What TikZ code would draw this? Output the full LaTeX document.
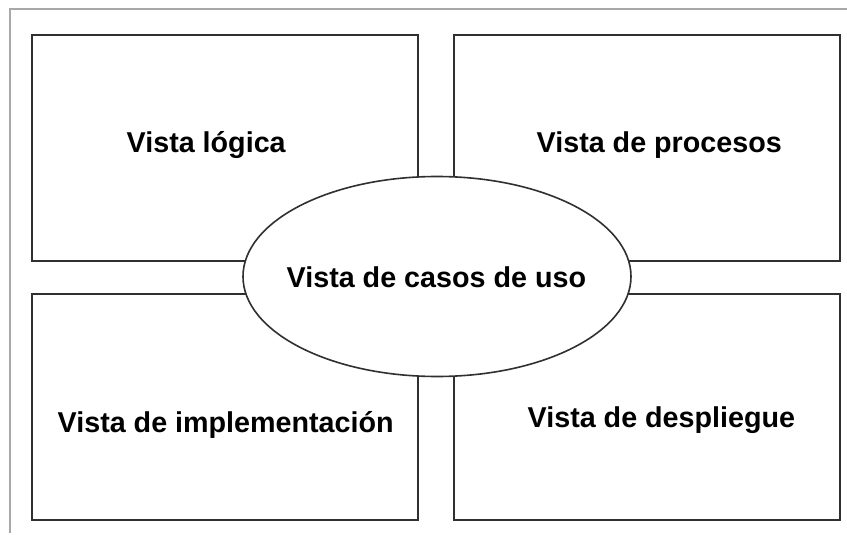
\documentclass[tikz,border=0pt]{standalone}
\usepackage{fontspec}
\setmainfont{Liberation Sans}
\usetikzlibrary{shapes.geometric}
\definecolor{frame}{HTML}{A8A8A8}
\definecolor{edge}{HTML}{303030}
\begin{document}
\begin{tikzpicture}[x=1pt,y=-1pt,
  viewbox/.style={draw=edge,line width=1.6pt,fill=white,rectangle,inner sep=0pt,
    minimum width=386pt,minimum height=226pt},
  lbl/.style={anchor=base west,inner sep=0pt,font=\fontsize{28.7pt}{30pt}\selectfont\bfseries}]
\useasboundingbox (0,0) rectangle (847,535);
\fill[white] (0,0) rectangle (847,535);
\coordinate (fright) at (847,9);
\coordinate (fbot) at (10,533);
\draw[frame,line width=1.6pt] (fright) -- (10,9) -- (fbot);
\node[viewbox] (tl) at (225,148) {};
\node[viewbox] (tr) at (647,148) {};
\node[viewbox] (bl) at (225,407) {};
\node[viewbox] (br) at (647,407) {};
\node[ellipse,draw=edge,line width=1.6pt,fill=white,inner sep=0pt,
  minimum width=388pt,minimum height=200pt] (uc) at (437,276.5) {};
\node[lbl] (tltxt) at (126.5,152.5) {Vista lógica};
\node[lbl] (trtxt) at (536.5,152.5) {Vista de procesos};
\node[lbl] (uctxt) at (286.5,287) {Vista de casos de uso};
\node[lbl] (bltxt) at (57.5,432) {Vista de implementación};
\node[lbl] (brtxt) at (527.5,427) {Vista de despliegue};
\end{tikzpicture}
\end{document}
